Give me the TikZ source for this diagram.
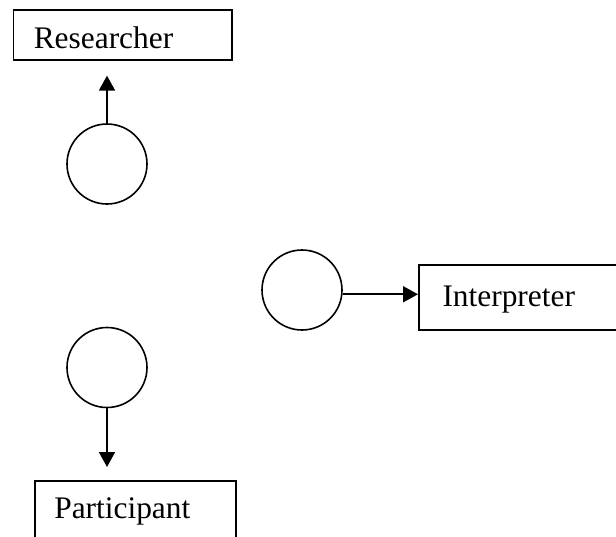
\documentclass[tikz,border=0pt]{standalone}
\usepackage{fontspec}
\setmainfont{Liberation Serif}
\usetikzlibrary{arrows.meta}
\begin{document}
\begin{tikzpicture}[x=1pt,y=-1pt,
  box/.style={draw,line width=1.6pt,anchor=north west,align=left,inner ysep=0pt,
    font=\fontsize{31.4}{36}\selectfont,text depth=0pt},
  ring/.style={draw,circle,line width=1.6pt,inner sep=0pt,minimum size=80pt},
  arr/.style={line width=1.8pt,-{Triangle[length=15pt,width=16pt]}}]
\useasboundingbox (0,0) rectangle (616,536);
\node[box,inner xsep=20.3pt,text width=177.7pt,minimum height=49.7pt,text height=27.6pt] (res) at (12.7,9.3) {Researcher};
\node[box,inner xsep=23.7pt,text width=240pt,minimum height=65pt,text height=18.4pt] (int) at (418,264) {Interpreter};
\node[box,inner xsep=19.5pt,text width=162pt,minimum height=65pt,text height=11pt] (par) at (34,480) {Participant};
\node[ring] (c1) at (107,164) {};
\node[ring] (c2) at (302,290) {};
\node[ring] (c3) at (107,367.5) {};
\draw[arr,shorten >=15pt] (c1.north) -- (c1.north |- res.south);
\draw[arr] (c2.-6) -- (c2.-6 -| int.west);
\draw[arr,shorten >=13pt] (c3.south) -- (c3.south |- par.north);
\end{tikzpicture}
\end{document}
